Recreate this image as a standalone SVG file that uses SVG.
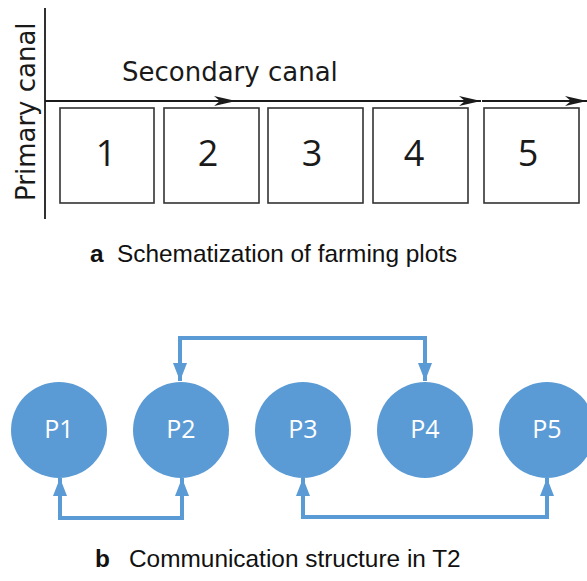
<svg xmlns="http://www.w3.org/2000/svg" width="587" height="581" viewBox="0 0 587 581">
<defs>
<style>
.plot{fill:#fff;stroke:#333;stroke-width:1.6}
.num{font-family:"Open Sans","DejaVu Sans",sans-serif;font-size:36px;fill:#1a1a1a;text-anchor:middle}
.lbl{font-family:"DejaVu Sans","Open Sans",sans-serif;font-size:26px;fill:#1a1a1a}
.canal{stroke:#1a1a1a;stroke-width:1.8;fill:none}
.cap{font-family:"Liberation Sans",Arial,sans-serif;font-size:24.4px;fill:#111}
.node{fill:#5B9BD5}
.ntxt{font-family:"Open Sans","DejaVu Sans",sans-serif;font-size:25px;fill:#fff;text-anchor:middle}
.link{stroke:#5B9BD5;stroke-width:4;fill:none}
</style>
<marker id="blk" markerUnits="userSpaceOnUse" markerWidth="24" markerHeight="12" viewBox="-23 -6 24 12" refX="0" refY="0" orient="auto">
<path d="M0,0 L-22,-5 L-16,0 L-22,5 Z" fill="#1a1a1a"/>
</marker>
<marker id="blu" markerUnits="userSpaceOnUse" markerWidth="20" markerHeight="16" viewBox="-19 -8 20 16" refX="0" refY="0" orient="auto">
<path d="M0,0 L-18,-7 L-18,7 Z" fill="#5B9BD5"/>
</marker>
</defs>
<rect width="587" height="581" fill="#fff"/>

<g id="primary-canal">
<line class="canal" x1="45" y1="8" x2="45" y2="219"/>
<text class="lbl" transform="translate(35,201) rotate(-90)">Primary canal</text>
</g>
<g id="secondary-canal-label">
<text class="lbl" x="122" y="81">Secondary canal</text>
</g>

<g id="connectors-a">
<line class="canal" x1="45" y1="101" x2="236" y2="101" marker-end="url(#blk)"/>
<line class="canal" x1="236" y1="101" x2="481" y2="101" marker-end="url(#blk)"/>
<line class="canal" x1="482" y1="101" x2="587" y2="101" marker-end="url(#blk)"/>
</g>

<g id="plot1"><rect class="plot" x="60" y="108" width="94" height="95"/><text class="num" x="106" y="166">1</text></g>
<g id="plot2"><rect class="plot" x="164" y="108" width="95" height="95"/><text class="num" x="208" y="166">2</text></g>
<g id="plot3"><rect class="plot" x="268" y="108" width="95" height="95"/><text class="num" x="312" y="166">3</text></g>
<g id="plot4"><rect class="plot" x="373" y="108" width="95" height="95"/><text class="num" x="414" y="166">4</text></g>
<g id="plot5"><rect class="plot" x="484" y="108" width="95" height="95"/><text class="num" x="528" y="166">5</text></g>

<g id="caption-a"><text class="cap" x="90" y="262" font-weight="bold">a</text><text class="cap" x="117" y="262">Schematization of farming plots</text></g>

<g id="connectors-b">
<path class="link" d="M180,360 V338 H425 V360"/>
<line class="link" x1="180" y1="350" x2="180" y2="381" marker-end="url(#blu)"/>
<line class="link" x1="425" y1="350" x2="425" y2="381" marker-end="url(#blu)"/>
<path class="link" d="M60,498 V518 H182 V498"/>
<line class="link" x1="60" y1="505" x2="60" y2="478" marker-end="url(#blu)"/>
<line class="link" x1="182" y1="505" x2="182" y2="478" marker-end="url(#blu)"/>
<path class="link" d="M303,498 V517 H547 V498"/>
<line class="link" x1="303" y1="505" x2="303" y2="478" marker-end="url(#blu)"/>
<line class="link" x1="547" y1="505" x2="547" y2="478" marker-end="url(#blu)"/>
</g>

<g id="P1"><circle class="node" cx="59" cy="430" r="48"/><text class="ntxt" x="59" y="438">P1</text></g>
<g id="P2"><circle class="node" cx="181" cy="430" r="48"/><text class="ntxt" x="181" y="438">P2</text></g>
<g id="P3"><circle class="node" cx="303" cy="430" r="48"/><text class="ntxt" x="303" y="438">P3</text></g>
<g id="P4"><circle class="node" cx="425" cy="430" r="48"/><text class="ntxt" x="425" y="438">P4</text></g>
<g id="P5"><circle class="node" cx="547" cy="430" r="48"/><text class="ntxt" x="547" y="438">P5</text></g>

<g id="caption-b"><text class="cap" x="95" y="567" font-weight="bold">b</text><text class="cap" x="129" y="567">Communication structure in T2</text></g>
</svg>
